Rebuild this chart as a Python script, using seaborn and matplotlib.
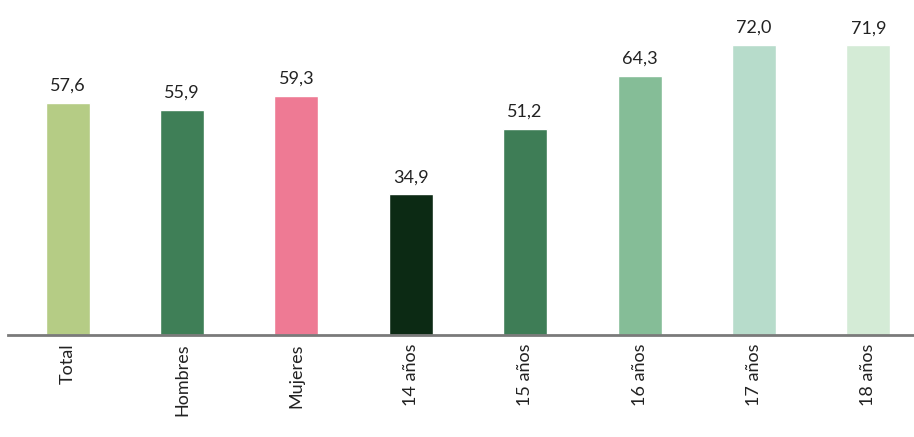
import pandas as pd
import matplotlib.pyplot as plt
import seaborn as sns

categories = ['Total', 'Hombres', 'Mujeres', '14 años', '15 años', '16 años', '17 años', '18 años']
values = [57.6, 55.9, 59.3, 34.9, 51.2, 64.3, 72.0, 71.9]
colors = ['#b5cc85', '#3f7f57', '#ee7a94', '#0c2a14', '#3e7d56', '#85bd97', '#b7dccb', '#d4ebd6']

df = pd.DataFrame({'cat': categories, 'val': values})

sns.set_theme(style='white')
plt.rcParams['font.family'] = ['Lato', 'DejaVu Sans']

fig = plt.figure(figsize=(9.14, 4.37), dpi=100)
ax = fig.add_axes([0.009, 0.233, 0.991, 0.767])

sns.barplot(data=df, x='cat', y='val', hue='cat', palette=colors, legend=False,
            width=0.385, ax=ax, saturation=1)

for i, v in enumerate(values):
    ax.text(i, v + 2.2, f'{v:.1f}'.replace('.', ','), ha='center', va='bottom',
            fontsize=13, color='#222222')

ax.set_xlim(-0.52, 7.4)
ax.set_ylim(0, 83.1)
ax.set_xlabel('')
ax.set_ylabel('')
ax.set_yticks([])
ax.tick_params(axis='x', length=0, pad=6)
ax.set_xticks(range(len(categories)))
ax.set_xticklabels(categories, rotation=90, fontsize=13, color='#222222')
for s in ['top', 'right', 'left']:
    ax.spines[s].set_visible(False)
ax.spines['bottom'].set_color('#7a7a7a')
ax.spines['bottom'].set_linewidth(2)

fig.savefig('out.png', dpi=100)
